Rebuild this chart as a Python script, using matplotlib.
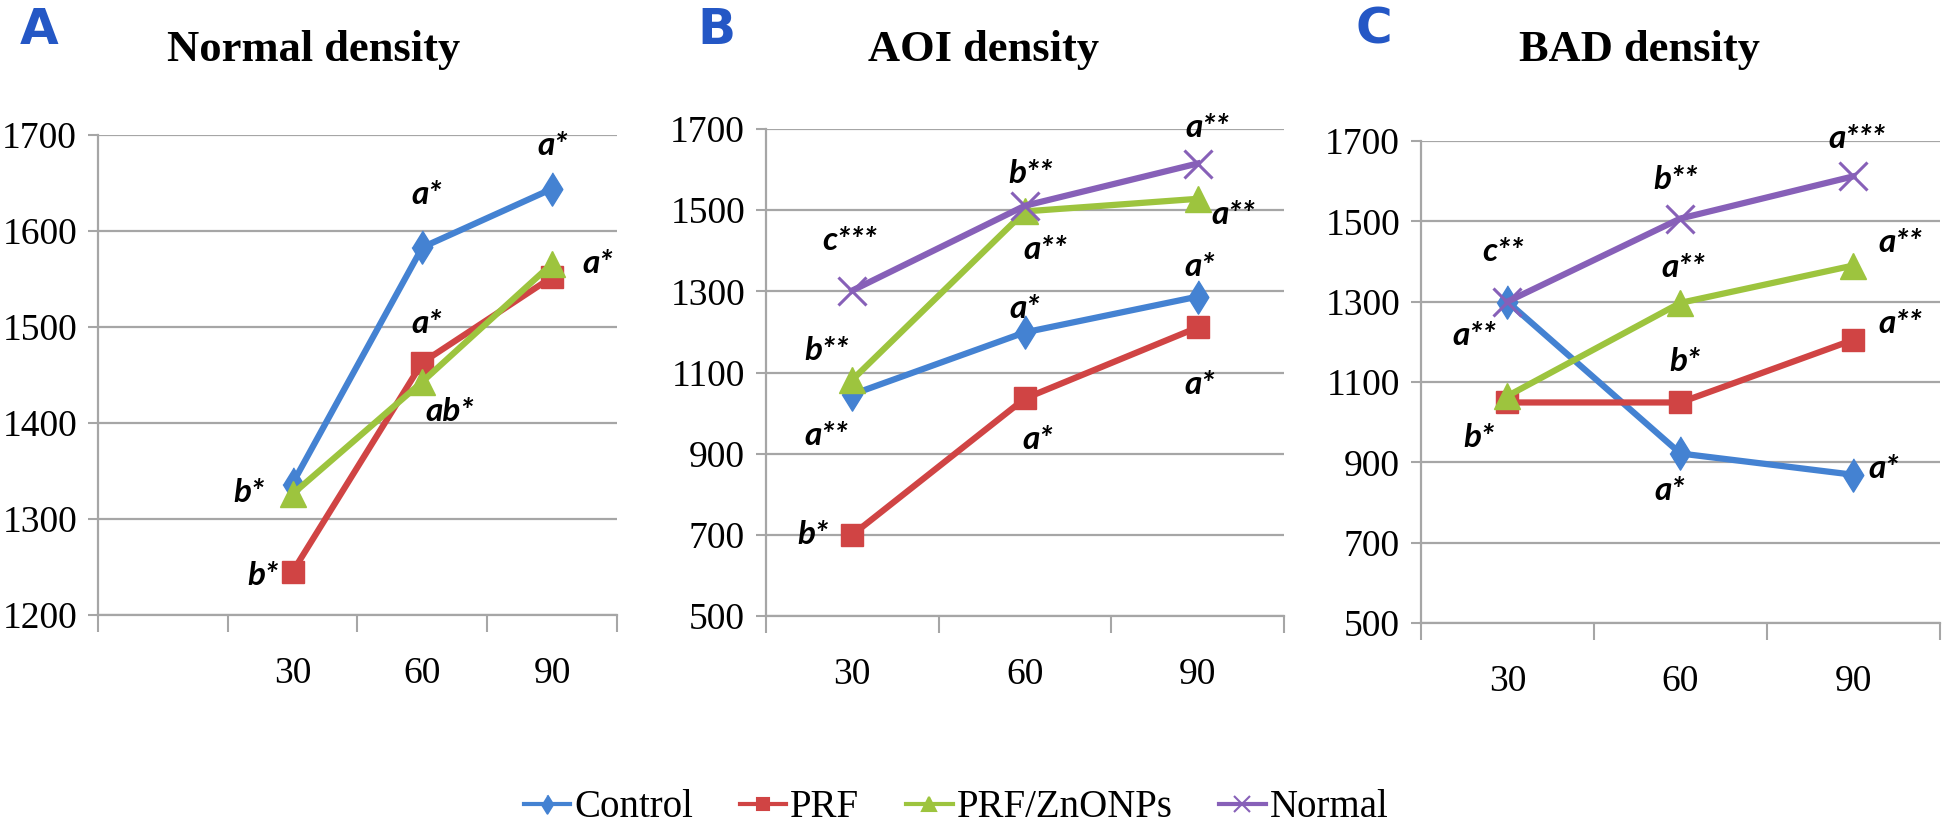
import numpy as np
import matplotlib.pyplot as plt
from matplotlib.lines import Line2D

plt.rcParams['font.family'] = ['Liberation Serif', 'DejaVu Serif']

# x categories (days)
days_a = ["", "30", "60", "90"]
days = ["30", "60", "90"]

# A - Normal density
control_a = [np.nan, 1337, 1583, 1644]
prf_a = [np.nan, 1245, 1463, 1552]
zno_a = [np.nan, 1326, 1443, 1566]

# B - AOI density
control_b = [1046, 1199, 1287]
prf_b = [700, 1036, 1211]
zno_b = [1082, 1497, 1528]
normal_b = [1302, 1511, 1615]

# C - BAD density
control_c = [1300, 922, 869]
prf_c = [1049, 1049, 1205]
zno_c = [1065, 1297, 1390]
normal_c = [1300, 1507, 1612]

# significance letters: (series, point index, text)
sig_a = [("Control", 2, "a*"), ("Control", 3, "a*"), ("PRF/ZnONPs", 3, "a*"),
         ("PRF", 2, "a*"), ("PRF/ZnONPs", 2, "ab*"), ("PRF/ZnONPs", 1, "b*"),
         ("PRF", 1, "b*")]
sig_b = [("Normal", 0, "c***"), ("PRF/ZnONPs", 0, "b**"), ("Control", 0, "a**"),
         ("PRF", 0, "b*"), ("Normal", 1, "b**"), ("PRF/ZnONPs", 1, "a**"),
         ("Control", 1, "a*"), ("PRF", 1, "a*"), ("Normal", 2, "a**"),
         ("PRF/ZnONPs", 2, "a**"), ("Control", 2, "a*"), ("PRF", 2, "a*")]
sig_c = [("Normal", 0, "c**"), ("Control", 0, "a**"), ("PRF", 0, "b*"),
         ("Normal", 1, "b**"), ("PRF/ZnONPs", 1, "a**"), ("PRF", 1, "b*"),
         ("Control", 1, "a*"), ("Normal", 2, "a***"), ("PRF/ZnONPs", 2, "a**"),
         ("PRF", 2, "a**"), ("Control", 2, "a*")]

# label offsets from the point, in pixels (x right, y down)
off_a = [(4, -53), (1, -43), (46, 0), (4, -39), (27, 30), (-44, -2), (-30, 4)]
off_b = [(-3, -50), (-26, -29), (-26, 41), (-39, 0), (6, -32), (20, 38),
         (0, -24), (13, 41), (10, -36), (36, 16), (2, -30), (2, 57)]
off_c = [(-4, -50), (-33, 34), (-28, 35), (-5, -39), (3, -35), (5, -41),
         (-11, 37), (4, -38), (47, -23), (47, -16), (30, -6)]

grid_col = '#a6a6a6'
diamond = [(0, 1), (0.62, 0), (0, -1), (-0.62, 0)]
styles = {
    "Control": dict(color='#4482d2', marker=diamond, ms=24),
    "PRF": dict(color='#d04444', marker='s', ms=16),
    "PRF/ZnONPs": dict(color='#9dc43e', marker='^', ms=19),
    "Normal": dict(color='#8760b8', marker='x', ms=20),
}


def style_axes(ax, cats, lo, hi, step):
    n = len(cats)
    ax.set_xlim(-0.5, n - 0.5)
    ax.set_ylim(lo, hi)
    ax.set_yticks(np.arange(lo, hi + 1, step))
    ax.set_xticks(np.arange(n + 1) - 0.5)
    ax.set_xticklabels([])
    ax.set_xticks(np.arange(n), minor=True)
    ax.set_xticklabels(cats, minor=True)
    ax.tick_params(axis='x', which='major', length=12, width=1.5, color=grid_col)
    ax.tick_params(axis='x', which='minor', length=0, pad=30, labelsize=27)
    ax.tick_params(axis='y', length=7, width=1.5, color=grid_col, pad=8, labelsize=27)
    ax.yaxis.grid(True, color=grid_col, lw=1.6)
    ax.set_axisbelow(True)
    for s in ['top', 'right']:
        ax.spines[s].set_visible(False)
    for s in ['left', 'bottom']:
        ax.spines[s].set_color(grid_col)
        ax.spines[s].set_linewidth(1.6)


def draw(ax, series, sigs, offs):
    for name, vals in series.items():
        st = styles[name]
        x = np.arange(len(vals))
        mew = 2.2 if name == "Normal" else 1
        ax.plot(x, vals, color=st['color'], lw=4.5, marker=st['marker'],
                ms=st['ms'], mew=mew, mec=st['color'], clip_on=False, zorder=3)
    for (name, i, txt), (dx, dy) in zip(sigs, offs):
        ax.annotate(txt, (i, series[name][i]), xytext=(dx * 0.72, -dy * 0.72),
                    textcoords='offset points', ha='center', va='center',
                    fontsize=24, fontweight='bold', fontstyle='italic',
                    family=['Lato', 'DejaVu Sans'], zorder=4)


fig = plt.figure(figsize=(19.43, 8.26), dpi=100)
ax_a = fig.add_axes([0.0504, 0.2554, 0.2671, 0.5811])
ax_b = fig.add_axes([0.3942, 0.2542, 0.2666, 0.5896])
ax_c = fig.add_axes([0.7313, 0.2458, 0.2671, 0.5835])

style_axes(ax_a, days_a, 1200, 1700, 100)
style_axes(ax_b, days, 500, 1700, 200)
style_axes(ax_c, days, 500, 1700, 200)

draw(ax_a, {"Control": control_a, "PRF": prf_a, "PRF/ZnONPs": zno_a}, sig_a, off_a)
draw(ax_b, {"Control": control_b, "PRF": prf_b, "PRF/ZnONPs": zno_b,
            "Normal": normal_b}, sig_b, off_b)
draw(ax_c, {"Control": control_c, "PRF": prf_c, "PRF/ZnONPs": zno_c,
            "Normal": normal_c}, sig_c, off_c)

# titles and panel letters
for x, t in [(0.1616, "Normal density"), (0.5064, "AOI density"), (0.844, "BAD density")]:
    fig.text(x, 0.9395, t, ha='center', va='center', fontsize=32, fontweight='bold')
for x, t in [(0.02, "A"), (0.3685, "B"), (0.7072, "C")]:
    fig.text(x, 0.9637, t, ha='center', va='center', fontsize=36, fontweight='bold',
             color='#2457c5', family=['DejaVu Sans'])

handles = [Line2D([], [], color=styles[n]['color'], lw=3, marker=styles[n]['marker'],
                  ms=styles[n]['ms'] * 0.55, mew=1.5, mec=styles[n]['color'])
           for n in styles]
fig.legend(handles, list(styles.keys()), loc='center', bbox_to_anchor=(0.492, 0.022),
           ncol=4, frameon=False, fontsize=28, handlelength=1.2, handletextpad=0.1,
           columnspacing=1.2)

fig.savefig("out.png", dpi=100)
